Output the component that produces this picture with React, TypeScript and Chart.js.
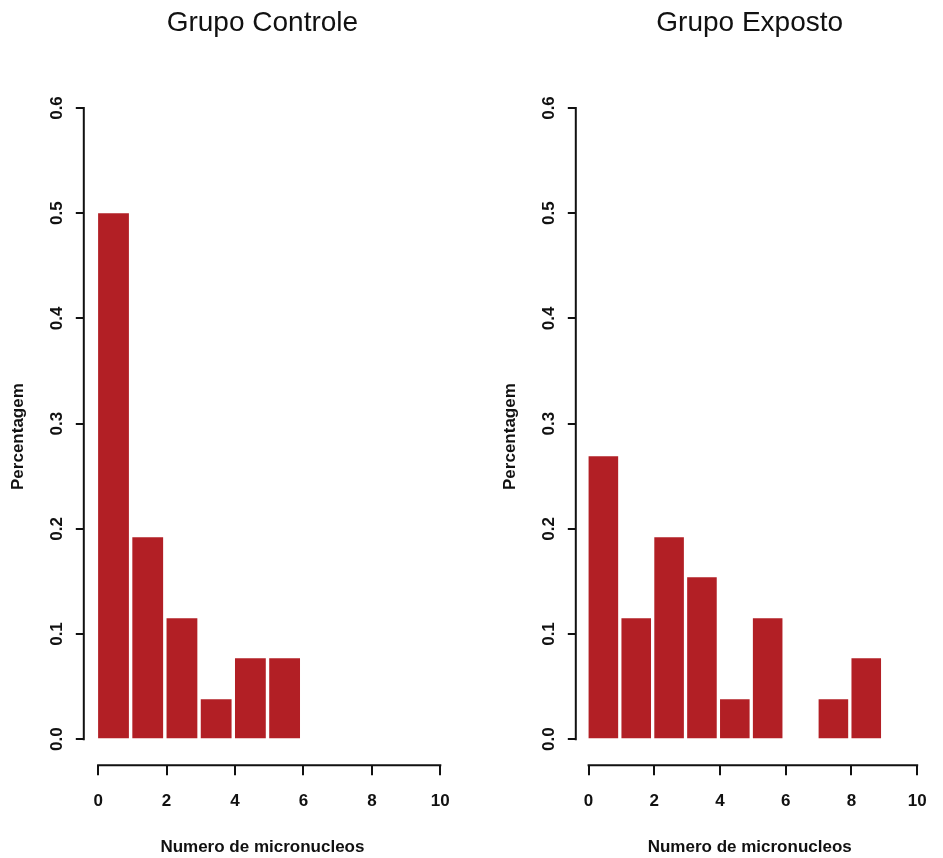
import React, { useEffect, useRef } from "react";
import { Chart, registerables } from "chart.js";

Chart.register(...registerables);

// ---- data ----
const TITLES = ["Grupo Controle", "Grupo Exposto"];
const X_TITLE = "Numero de micronucleos";
const Y_TITLE = "Percentagem";
const BINS_CONTROLE = [0, 1, 2, 3, 4, 5];
const VALUES_CONTROLE = [0.5, 0.192, 0.115, 0.038, 0.077, 0.077];
const BINS_EXPOSTO = [0, 1, 2, 3, 4, 5, 6, 7, 8];
const VALUES_EXPOSTO = [0.269, 0.115, 0.192, 0.154, 0.038, 0.115, 0, 0.038, 0.077];
const Y_TICKS = [0, 0.1, 0.2, 0.3, 0.4, 0.5, 0.6];
const X_TICKS = [0, 2, 4, 6, 8, 10];

// ---- style ----
const FONT = "'Liberation Sans', Arial, Helvetica, sans-serif";
const INK = "#111111";
const RED = "#B21F25";
const BAR_SHIFT = 0.45; // bars occupy [bin, bin + 0.9] on the printed axis

const axisLines = {
  id: "axisLines",
  afterDraw(chart: any) {
    const { ctx, chartArea, scales } = chart;
    const x = scales.x;
    const y = scales.y;
    ctx.save();
    ctx.strokeStyle = INK;
    ctx.lineWidth = 2;
    ctx.beginPath();
    const ax = chartArea.left;
    ctx.moveTo(ax, y.getPixelForValue(Y_TICKS[0]) + 1);
    ctx.lineTo(ax, y.getPixelForValue(Y_TICKS[Y_TICKS.length - 1]) - 1);
    const ay = chartArea.bottom;
    ctx.moveTo(x.getPixelForValue(X_TICKS[0]) - 1, ay);
    ctx.lineTo(x.getPixelForValue(X_TICKS[X_TICKS.length - 1]) + 1, ay);
    ctx.stroke();
    ctx.restore();
  },
};

type PanelProps = {
  left: number;
  width: number;
  padLeft: number;
  padRight: number;
  xMin: number;
  xMax: number;
  title: string;
  bins: number[];
  values: number[];
};

function Panel(p: PanelProps) {
  const ref = useRef<HTMLCanvasElement | null>(null);
  useEffect(() => {
    if (!ref.current) return;
    const tickFont = { family: FONT, size: 17, weight: "bold" as const };
    const chart = new Chart(ref.current, {
      type: "bar",
      data: {
        datasets: [
          {
            data: p.bins.map((b, i) => ({ x: b, y: p.values[i] })),
            xAxisID: "xb",
            yAxisID: "y",
            backgroundColor: RED,
            borderWidth: 0,
            barPercentage: 0.9,
            categoryPercentage: 1,
          } as any,
        ],
      },
      options: {
        responsive: false,
        animation: false,
        devicePixelRatio: 1,
        layout: { padding: { left: p.padLeft, right: p.padRight, top: 0, bottom: 0 } },
        plugins: {
          legend: { display: false },
          tooltip: { enabled: false },
          title: {
            display: true,
            text: p.title,
            fullSize: false,
            color: INK,
            font: { family: FONT, size: 28, weight: "normal" },
            padding: { top: 6, bottom: 68.4 },
          },
        },
        scales: {
          xb: {
            type: "linear",
            axis: "x",
            position: "bottom",
            display: false,
            offset: false,
            min: p.xMin - BAR_SHIFT,
            max: p.xMax - BAR_SHIFT,
          } as any,
          x: {
            type: "linear",
            position: "bottom",
            offset: false,
            min: p.xMin,
            max: p.xMax,
            afterBuildTicks: (s: any) => {
              s.ticks = X_TICKS.map((v) => ({ value: v }));
            },
            grid: {
              display: true,
              drawOnChartArea: false,
              drawTicks: true,
              tickLength: 10,
              color: INK,
              lineWidth: 2,
              offset: false,
            },
            border: { display: false },
            ticks: {
              color: INK,
              font: tickFont,
              padding: 16,
              maxRotation: 0,
              minRotation: 0,
              autoSkip: false,
            },
            title: {
              display: true,
              text: X_TITLE,
              color: INK,
              font: tickFont,
              padding: { top: 10, bottom: 0 },
            },
          } as any,
          y: {
            type: "linear",
            position: "left",
            min: -0.0247,
            max: 0.6,
            afterBuildTicks: (s: any) => {
              s.ticks = Y_TICKS.map((v) => ({ value: v }));
            },
            grid: {
              display: true,
              drawOnChartArea: false,
              drawTicks: true,
              tickLength: 8,
              color: INK,
              lineWidth: 2,
            },
            border: { display: false },
            ticks: {
              color: INK,
              font: tickFont,
              padding: 7,
              minRotation: 90,
              maxRotation: 90,
              crossAlign: "center",
              autoSkip: false,
              callback: (v: any) => Number(v).toFixed(1),
            },
            title: {
              display: true,
              text: Y_TITLE,
              color: INK,
              font: tickFont,
              padding: { top: 8, bottom: 13 },
            },
          } as any,
        },
      },
      plugins: [axisLines],
    });
    return () => chart.destroy();
  }, []);
  return (
    <canvas
      ref={ref}
      width={p.width}
      height={858}
      style={{ position: "absolute", left: p.left, top: 0, width: p.width, height: 858 }}
    />
  );
}

export default function App() {
  return (
    <div
      style={{
        position: "absolute",
        left: 0,
        top: 0,
        width: 943,
        height: 858,
        background: "#ffffff",
        overflow: "hidden",
      }}
    >
      <Panel
        left={0}
        width={471}
        padLeft={0}
        padRight={30}
        xMin={-0.418}
        xMax={10.02}
        title={TITLES[0]}
        bins={BINS_CONTROLE}
        values={VALUES_CONTROLE}
      />
      <Panel
        left={471}
        width={472}
        padLeft={21}
        padRight={5}
        xMin={-0.389}
        xMax={10.196}
        title={TITLES[1]}
        bins={BINS_EXPOSTO}
        values={VALUES_EXPOSTO}
      />
    </div>
  );
}
